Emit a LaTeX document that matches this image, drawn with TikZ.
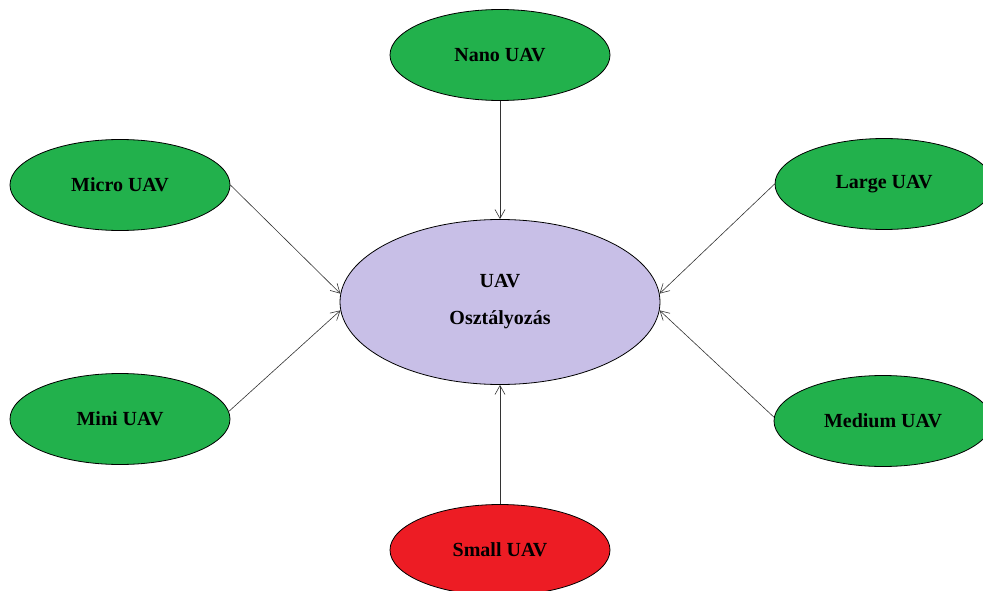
\documentclass[tikz,border=0pt]{standalone}
\usepackage{fontspec}
\setmainfont{Liberation Serif}
\usetikzlibrary{shapes.geometric,arrows.meta}
\definecolor{uavgreen}{HTML}{22B14C}
\definecolor{uavred}{HTML}{ED1C24}
\definecolor{uavlav}{HTML}{C8BFE7}
\tikzset{
  cls/.style={ellipse,draw=black,line width=0.8pt,fill=uavgreen,inner sep=0pt,
    minimum width=220pt,minimum height=91pt,font=\fontsize{20}{23}\selectfont\bfseries},
  hub/.style={ellipse,draw=black,line width=0.8pt,fill=uavlav,inner sep=0pt,
    minimum width=320pt,minimum height=165pt,font=\fontsize{20}{23}\selectfont\bfseries,align=center},
  conn/.style={draw=black!80,line width=0.6pt,-{Straight Barb[length=9pt,width=10pt]}}
}
\begin{document}
\begin{tikzpicture}[x=1pt,y=-1pt]
\useasboundingbox (0,0) rectangle (983,591);
\node[hub] (c) at (500,302) {UAV\\[14pt]Osztályozás};
\node[cls] (nano) at (500,55) {Nano UAV};
\node[cls] (micro) at (120,185) {Micro UAV};
\node[cls] (mini) at (120,419) {Mini UAV};
\node[cls,minimum width=218pt] (large) at (884,184) {Large UAV};
\node[cls,minimum width=218pt] (medium) at (883,421) {Medium UAV};
\node[cls,fill=uavred] (small) at (500,550) {Small UAV};
\draw[conn] (nano.south) -- (c.north);
\draw[conn] (small.north) -- (c.south);
\draw[conn] (micro.east) -- (c.177);
\draw[conn] (mini.4) -- (c.183);
\draw[conn] (large.west) -- (c.3);
\draw[conn] (medium.178) -- (c.357);
\end{tikzpicture}
\end{document}
